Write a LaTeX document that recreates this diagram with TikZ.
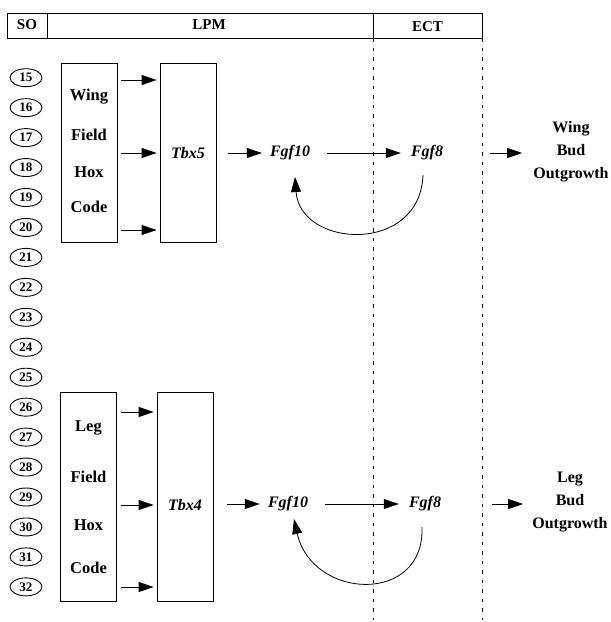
\documentclass[tikz,border=0pt]{standalone}
\usepackage{fontspec}
\setmainfont{Liberation Serif}
\usetikzlibrary{arrows.meta,shapes.geometric}
\begin{document}
\begin{tikzpicture}[x=1pt,y=-1pt,
  txt/.style={font=\fontsize{16.5}{17}\selectfont\bfseries, inner sep=1pt},
  multi/.style={align=center, font=\fontsize{16}{23}\selectfont\bfseries, inner sep=1pt},
  gene/.style={font=\fontsize{16}{17}\selectfont\bfseries\itshape, inner sep=1pt},
  hdr/.style={font=\fontsize{15}{16}\selectfont\bfseries},
  som/.style={draw, ellipse, line width=0.9pt, minimum width=32pt, minimum height=18pt, inner sep=0pt, font=\fontsize{13}{14}\selectfont\bfseries},
  boxx/.style={draw, line width=0.8pt, minimum width=56pt, inner sep=0pt},
  arr/.style={line width=0.8pt, -{Triangle[length=15pt,width=10pt]}},
  dsh/.style={line width=0.8pt, dash pattern=on 3.5pt off 6pt}]
\useasboundingbox (0,0) rectangle (611,622);
% header
\node[draw, line width=0.8pt, minimum width=475pt, minimum height=25pt, inner sep=0pt] (hd) at (244.5,25.5) {};
\coordinate (d0) at (47,13);
\coordinate (d1) at (373,13);
\coordinate (d2) at (482,13);
\draw[line width=0.8pt] (d0) -- (d0 |- hd.south);
\draw[line width=0.8pt] (d1) -- (d1 |- hd.south);
\node[hdr] (so) at (27,25) {SO};
\node[hdr] (lpm) at (209,25) {LPM};
\node[hdr] (ect) at (427.5,27) {ECT};
\coordinate (e1) at (373,620);
\coordinate (e2) at (482,620);
\draw[dsh] (d1 |- hd.south) -- (e1);
\draw[dsh] (d2 |- hd.south) -- (e2);
% somites
\foreach \n [count=\i from 0] in {15,...,32} {
  \node[som] (s\n) at (26,{77.7+\i*29.95}) {\n};
}
% wing
\node[boxx, minimum height=179pt] (wing) at (89,152.5) {};
\node[boxx, minimum height=179pt] (tbx5) at (188,152.5) {};
\node[txt] (w1) at (89,97) {Wing};
\node[txt] (w2) at (89,135) {Field};
\node[txt] (w3) at (89,172) {Hox};
\node[txt] (w4) at (89,207) {Code};
\node[gene] (t5) at (188,153) {Tbx5};
\foreach \yy in {80,153,230} {
  \draw[arr] ([xshift=4pt]wing.east |- 0,\yy) -- ([xshift=-3pt]tbx5.west |- 0,\yy);
}
\node[gene] (fa) at (290,153) {Fgf10};
\node[gene] (fb) at (427,153) {Fgf8};
\node[multi] (wo) at (571,152) {Wing\\Bud\\Outgrowth};
\coordinate (wa1) at (228,153);
\coordinate (wa2) at (490,153);
\draw[arr] (wa1) -- ([xshift=-7pt]fa.west);
\draw[arr] ([xshift=16pt]fa.east) -- ([xshift=-9pt]fb.west);
\draw[arr] (wa2) -- ([xshift=-10pt]wo.west |- fb);
\coordinate (ca) at (423,175);
\coordinate (cb) at (295,177);
\draw[arr] (ca) .. controls (420,255) and (300,248) .. (cb);
% leg
\node[boxx, minimum height=209pt] (leg) at (88.5,496.5) {};
\node[boxx, minimum height=209pt] (tbx4) at (185,496.5) {};
\node[txt] (l1) at (88.5,428) {Leg};
\node[txt] (l2) at (88.5,477) {Field};
\node[txt] (l3) at (88.5,525) {Hox};
\node[txt] (l4) at (88.5,568) {Code};
\node[gene] (t4) at (185,505) {Tbx4};
\foreach \yy in {412,505,587} {
  \draw[arr] ([xshift=4pt]leg.east |- 0,\yy) -- ([xshift=-3pt]tbx4.west |- 0,\yy);
}
\node[gene] (ga) at (288,504) {Fgf10};
\node[gene] (gb) at (425,504) {Fgf8};
\node[multi] (lo) at (570,502) {Leg\\Bud\\Outgrowth};
\coordinate (la1) at (227,504);
\coordinate (la2) at (492,504);
\draw[arr] (la1) -- ([xshift=-7pt]ga.west);
\draw[arr] ([xshift=16pt]ga.east) -- ([xshift=-9pt]gb.west);
\draw[arr] (la2) -- ([xshift=-8pt]lo.west |- gb);
\coordinate (cc) at (422,527);
\coordinate (cd) at (294,519);
\draw[arr] (cc) .. controls (425,605) and (312,600) .. (cd);
\end{tikzpicture}
\end{document}
